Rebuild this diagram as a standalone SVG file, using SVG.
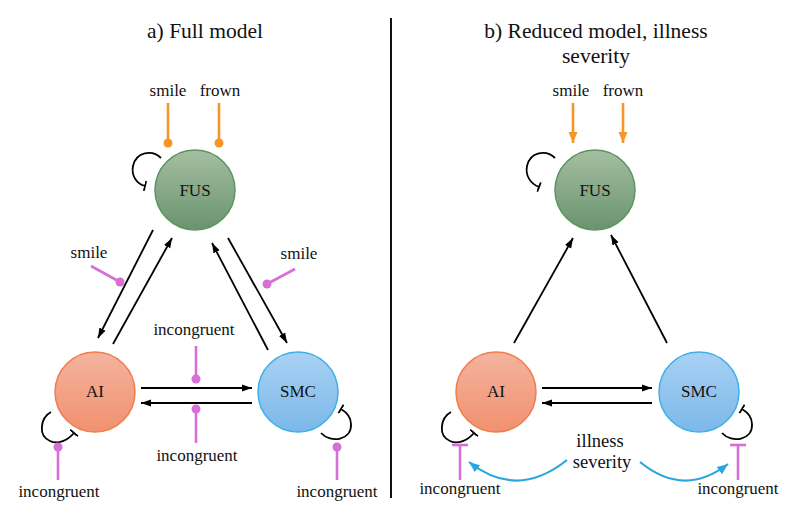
<svg xmlns="http://www.w3.org/2000/svg" width="800" height="519" viewBox="0 0 800 519">
  <defs>
    <linearGradient id="gFus" x1="0" y1="0" x2="0" y2="1">
      <stop offset="0" stop-color="#a4bfa1"/>
      <stop offset="1" stop-color="#6b936e"/>
    </linearGradient>
    <linearGradient id="gAi" x1="0" y1="0" x2="0" y2="1">
      <stop offset="0" stop-color="#f4b39e"/>
      <stop offset="1" stop-color="#f1916f"/>
    </linearGradient>
    <linearGradient id="gSmc" x1="0" y1="0" x2="0" y2="1">
      <stop offset="0" stop-color="#a9d1f3"/>
      <stop offset="1" stop-color="#7bb8e9"/>
    </linearGradient>
    <marker id="arrow" markerUnits="userSpaceOnUse" markerWidth="11" markerHeight="8" refX="10" refY="4" orient="auto">
      <path d="M0,0.5 L10,4 L0,7.5 z" fill="#000"/>
    </marker>
    <marker id="arrowOrange" markerUnits="userSpaceOnUse" markerWidth="12" markerHeight="10" refX="11" refY="5" orient="auto">
      <path d="M0,0.5 L11,5 L0,9.5 z" fill="#f5962a"/>
    </marker>
    <marker id="arrowBlue" markerUnits="userSpaceOnUse" markerWidth="12" markerHeight="10" refX="11" refY="5" orient="auto">
      <path d="M0,0.5 L11,5 L0,9.5 z" fill="#2aa6df"/>
    </marker>
    <marker id="bar" markerUnits="userSpaceOnUse" markerWidth="4" markerHeight="12" refX="1" refY="6" orient="auto">
      <path d="M1,1 L1,11" stroke="#000" stroke-width="1.8" fill="none"/>
    </marker>
  </defs>
  <style>
    text { font-family: "Liberation Serif", "DejaVu Serif", serif; fill: #111; }
    .title { font-size: 21.5px; text-anchor: middle; }
    .lbl { font-size: 17px; text-anchor: middle; }
    .sev { font-size: 18.5px; text-anchor: middle; }
    .node-lbl { font-size: 17px; text-anchor: middle; }
    .edge { stroke: #000; stroke-width: 1.8; fill: none; marker-end: url(#arrow); }
    .loop { stroke: #000; stroke-width: 1.8; fill: none; marker-end: url(#bar); }
    .orange { stroke: #f5962a; stroke-width: 2.6; fill: none; }
    .magenta { stroke: #d66fd6; stroke-width: 2.6; fill: none; }
    .dotO { fill: #f5962a; }
    .dotM { fill: #d66fd6; }
    .blue { stroke: #2aa6df; stroke-width: 2.2; fill: none; marker-end: url(#arrowBlue); }
  </style>

  <rect width="800" height="519" fill="#fff"/>

  <!-- panel titles and divider -->
  <text class="title" x="205" y="38" font-family="Liberation Serif, serif">a) Full model</text>
  <text class="title" x="596" y="38" font-family="Liberation Serif, serif">b) Reduced model, illness</text>
  <text class="title" x="596" y="63" font-family="Liberation Serif, serif">severity</text>
  <line x1="391" y1="18" x2="391" y2="498" stroke="#111" stroke-width="2"/>

  <!-- connectors -->
  <g id="connectors">
    <!-- panel a: between regions -->
    <line class="edge" x1="153" y1="230" x2="98" y2="338"/>
    <line class="edge" x1="113" y1="344" x2="172" y2="238"/>
    <line class="edge" x1="268" y1="350" x2="212" y2="243"/>
    <line class="edge" x1="228" y1="238" x2="287" y2="343"/>
    <line class="edge" x1="141" y1="388" x2="252" y2="388"/>
    <line class="edge" x1="252" y1="403" x2="141" y2="403"/>

    <!-- panel a: self connections -->
    <path class="loop" d="M161,158 C152,149 136,152 133,166 C131,176 137,184 145,186"/>
    <path class="loop" d="M51,412 C40,418 38,436 50,441 C58,445 68,440 74,433"/>
    <path class="loop" d="M321,433 C331,444 352,440 351,424 C351,417 346,412 341,409"/>

    <!-- panel a: modulatory inputs -->
    <line class="orange" x1="168" y1="103" x2="168" y2="143"/>
    <circle class="dotO" cx="168" cy="143" r="4.5"/>
    <line class="orange" x1="219" y1="103" x2="219" y2="143"/>
    <circle class="dotO" cx="219" cy="143" r="4.5"/>

    <line class="magenta" x1="91" y1="266" x2="120" y2="282"/>
    <circle class="dotM" cx="120" cy="282" r="4.5"/>
    <line class="magenta" x1="295" y1="269" x2="267" y2="284"/>
    <circle class="dotM" cx="267" cy="284" r="4.5"/>
    <line class="magenta" x1="196" y1="346" x2="196" y2="379"/>
    <circle class="dotM" cx="196" cy="379" r="4.5"/>
    <line class="magenta" x1="196" y1="443" x2="196" y2="409"/>
    <circle class="dotM" cx="196" cy="409" r="4.5"/>
    <line class="magenta" x1="58" y1="480" x2="58" y2="447"/>
    <circle class="dotM" cx="58" cy="447" r="4.5"/>
    <line class="magenta" x1="337" y1="480" x2="337" y2="447"/>
    <circle class="dotM" cx="337" cy="447" r="4.5"/>

    <!-- panel b: between regions -->
    <line class="edge" x1="514" y1="343" x2="573" y2="238"/>
    <line class="edge" x1="667" y1="343" x2="611" y2="235"/>
    <line class="edge" x1="542" y1="388" x2="652" y2="388"/>
    <line class="edge" x1="652" y1="403" x2="542" y2="403"/>

    <!-- panel b: self connections -->
    <path class="loop" d="M555,158 C546,149 530,152 527,166 C525,176 531,184 539,187"/>
    <path class="loop" d="M451,412 C440,418 438,436 450,441 C458,445 468,440 474,433"/>
    <path class="loop" d="M722,433 C732,444 753,440 752,424 C752,417 747,412 742,409"/>

    <!-- panel b: driving inputs -->
    <line class="orange" x1="573" y1="103" x2="573" y2="143" marker-end="url(#arrowOrange)"/>
    <line class="orange" x1="623" y1="103" x2="623" y2="143" marker-end="url(#arrowOrange)"/>

    <!-- panel b: inhibitory inputs on self connections -->
    <line class="magenta" x1="460" y1="480" x2="460" y2="445"/>
    <line class="magenta" x1="452" y1="445" x2="468" y2="445"/>
    <line class="magenta" x1="738" y1="480" x2="738" y2="445"/>
    <line class="magenta" x1="730" y1="445" x2="746" y2="445"/>

    <!-- panel b: illness severity modulation -->
    <path class="blue" d="M567,460 Q517,500 469,462"/>
    <path class="blue" d="M640,462 Q684,498 728,464"/>
  </g>

  <!-- input labels -->
  <g id="labels">
    <text class="lbl" x="168" y="96">smile</text>
    <text class="lbl" x="220" y="96">frown</text>
    <text class="lbl" x="89" y="258">smile</text>
    <text class="lbl" x="299" y="259">smile</text>
    <text class="lbl" x="194" y="335">incongruent</text>
    <text class="lbl" x="197" y="461">incongruent</text>
    <text class="lbl" x="59" y="497">incongruent</text>
    <text class="lbl" x="337" y="497">incongruent</text>

    <text class="lbl" x="571" y="96">smile</text>
    <text class="lbl" x="623" y="96">frown</text>
    <text class="lbl" x="460" y="494">incongruent</text>
    <text class="lbl" x="738" y="494">incongruent</text>
    <text class="sev" x="600" y="447">illness</text>
    <text class="sev" x="602" y="468">severity</text>
  </g>

  <!-- panel a nodes -->
  <g id="fus-a">
    <circle cx="195" cy="190" r="40" fill="url(#gFus)" stroke="#5d955f" stroke-width="1.5"/>
    <text class="node-lbl" x="195" y="196">FUS</text>
  </g>
  <g id="ai-a">
    <circle cx="95" cy="392" r="40" fill="url(#gAi)" stroke="#f07d4c" stroke-width="1.5"/>
    <text class="node-lbl" x="95" y="397">AI</text>
  </g>
  <g id="smc-a">
    <circle cx="298" cy="392" r="40" fill="url(#gSmc)" stroke="#3eb0e8" stroke-width="1.5"/>
    <text class="node-lbl" x="298" y="397">SMC</text>
  </g>

  <!-- panel b nodes -->
  <g id="fus-b">
    <circle cx="595" cy="190" r="40" fill="url(#gFus)" stroke="#5d955f" stroke-width="1.5"/>
    <text class="node-lbl" x="595" y="196">FUS</text>
  </g>
  <g id="ai-b">
    <circle cx="496" cy="392" r="40" fill="url(#gAi)" stroke="#f07d4c" stroke-width="1.5"/>
    <text class="node-lbl" x="496" y="397">AI</text>
  </g>
  <g id="smc-b">
    <circle cx="699" cy="392" r="40" fill="url(#gSmc)" stroke="#3eb0e8" stroke-width="1.5"/>
    <text class="node-lbl" x="699" y="397">SMC</text>
  </g>
</svg>
